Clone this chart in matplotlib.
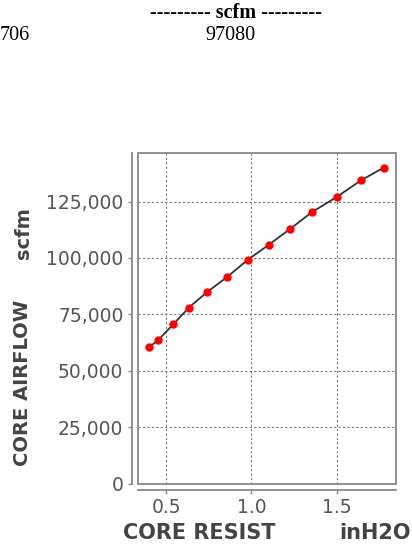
import numpy as np
import matplotlib.pyplot as plt
from matplotlib.patches import Rectangle
from matplotlib.ticker import FuncFormatter

resist = np.array([0.398, 0.453, 0.541, 0.633, 0.739, 0.858, 0.978,
                   1.101, 1.226, 1.353, 1.500, 1.643, 1.776])
airflow = np.array([60400, 63600, 70600, 78000, 84800, 91600, 99150,
                    105800, 112800, 120200, 127000, 134400, 140000])
xticks = [0.5, 1.0, 1.5]
yticks = [0, 25000, 50000, 75000, 100000, 125000]

W, H = 412, 545
fig = plt.figure(figsize=(W / 100, H / 100), dpi=100)
ax = fig.add_axes([138 / W, 1 - 483.5 / H, (396 - 138) / W, (483.5 - 153) / H])

ax.plot(resist, airflow, color='#333333', lw=1.3, zorder=3)
ax.plot(resist, airflow, 'o', color='red', ms=5, mec='red', zorder=4)

ax.set_xlim(0.334, 1.848)
ax.set_ylim(0, 146500)
ax.set_xticks(xticks)
ax.set_yticks(yticks)
ax.xaxis.set_major_formatter(FuncFormatter(lambda v, p: f'{v:.1f}'))
ax.yaxis.set_major_formatter(FuncFormatter(lambda v, p: f'{int(v):,}'))
ax.grid(True, color='#777777', lw=0.8, linestyle=(0, (2, 2)))
ax.tick_params(colors='#888888', labelcolor='#555555', labelsize=13.5,
               length=3, width=1, pad=3)

for s in ['top', 'right']:
    ax.spines[s].set_visible(False)
for s in ['left', 'bottom']:
    ax.spines[s].set_position(('outward', 4.5))
    ax.spines[s].set_color('#888888')
    ax.spines[s].set_linewidth(1.3)
# grey box around the plot area
ax.add_patch(Rectangle((0, 0), 1, 1, transform=ax.transAxes, fill=False,
                       ec='#888888', lw=1.3, clip_on=False, zorder=5))

ylab = dict(fontsize=14, color='#444444', fontweight='bold')
xlab = dict(fontsize=15, color='#444444', fontweight='bold')
fig.text(23 / W, 1 - 382.5 / H, 'CORE AIRFLOW', rotation=90, ha='center', va='center', **ylab)
fig.text(23 / W, 1 - 233 / H, 'scfm', rotation=90, ha='center', va='center', **ylab)
fig.text(199 / W, 1 - 533 / H, 'CORE RESIST', ha='center', va='center', **xlab)
fig.text(375 / W, 1 - 533 / H, 'inH2O', ha='center', va='center', **xlab)

serif = dict(family='Liberation Serif', fontsize=14.5, color='black')
fig.text(236 / W, 1 - 13 / H, '--------- scfm ---------', ha='center', va='center',
         fontweight='bold', **serif)
fig.text(230 / W, 1 - 35 / H, '97080', ha='center', va='center', **serif)
fig.text(0, 1 - 35 / H, '706', ha='left', va='center', **serif)

fig.savefig('out.png', dpi=100)
